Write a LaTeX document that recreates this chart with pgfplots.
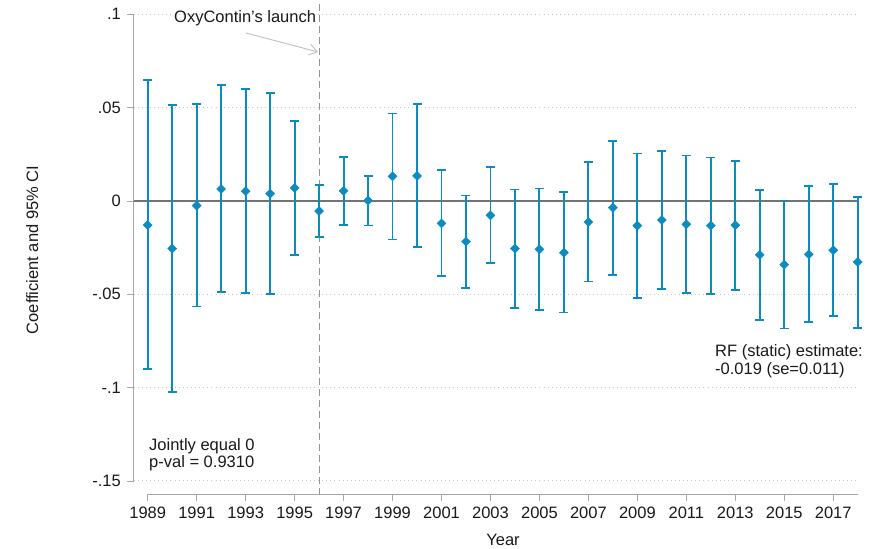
\documentclass[border=0pt]{standalone}
\usepackage{fontspec}
\setmainfont{Liberation Sans}
\usepackage{pgfplots}
\pgfplotsset{compat=1.18}
\usepackage{pgfplotstable}
\usetikzlibrary{arrows.meta}
\definecolor{ptblue}{RGB}{10,140,192}
\pgfplotstableread{
year coef lo hi
1989 -0.0129 -0.0902 0.0647
1990 -0.0255 -0.1024 0.0514
1991 -0.0025 -0.0565 0.0520
1992 0.0064 -0.0488 0.0620
1993 0.0052 -0.0493 0.0600
1994 0.0039 -0.0500 0.0580
1995 0.0070 -0.0289 0.0427
1996 -0.0054 -0.0195 0.0086
1997 0.0054 -0.0130 0.0234
1998 0.0002 -0.0132 0.0134
1999 0.0132 -0.0207 0.0468
2000 0.0134 -0.0248 0.0518
2001 -0.0120 -0.0402 0.0164
2002 -0.0218 -0.0468 0.0030
2003 -0.0077 -0.0334 0.0182
2004 -0.0255 -0.0572 0.0061
2005 -0.0259 -0.0584 0.0066
2006 -0.0277 -0.0598 0.0048
2007 -0.0113 -0.0432 0.0207
2008 -0.0036 -0.0397 0.0323
2009 -0.0132 -0.0520 0.0254
2010 -0.0102 -0.0473 0.0268
2011 -0.0125 -0.0495 0.0243
2012 -0.0132 -0.0497 0.0232
2013 -0.0130 -0.0477 0.0214
2014 -0.0289 -0.0636 0.0059
2015 -0.0341 -0.0684 0.0002
2016 -0.0286 -0.0650 0.0080
2017 -0.0264 -0.0618 0.0091
2018 -0.0327 -0.0679 0.0021
}\datatable

\begin{document}
\begin{tikzpicture}[x=1pt,y=1pt]
\fontsize{16.5}{19}\selectfont
\begin{axis}[
  at={(133.5pt,55pt)}, anchor=south west,
  scale only axis, width=724.2pt, height=479.7pt,
  xmin=1988.42, xmax=2018, ymin=-0.157, ymax=0.1,
  axis line style={draw=none},
  xtick={1989,1991,...,2017},
  ytick={-0.15,-0.1,-0.05,0,0.05,0.1},
  yticklabels={-.15,-.1,-.05,0,.05,.1},
  xtick pos=left, ytick pos=left,
  tick align=outside, major tick length=7pt,
  tick style={color=black!35, line width=0.8pt},
  ymajorgrids, grid style={dash pattern=on 0.9pt off 3.2pt, color=black!22, line width=0.9pt},
  clip=false,
  /pgf/number format/1000 sep={},
  /pgf/number format/assume math mode=true,
  tick label style={font=\fontsize{16.5}{19}\selectfont, color=black!90},
]
\draw[black!35, line width=0.8pt] (axis cs:1988.42,-0.15) -- (axis cs:1988.42,0.1);
\draw[black!35, line width=0.8pt] (axis cs:1989,-0.157) -- (axis cs:2018,-0.157);
\draw[black!55, line width=1.1pt] (axis cs:1988.42,0) -- (axis cs:2018,0);
\draw[black!42, line width=1.15pt, dash pattern=on 7pt off 4pt] (axis cs:1996,0.1055) -- (axis cs:1996,-0.157);
\addplot[ptblue, only marks, mark=square*, mark size=3.2pt,
  mark options={rotate=45, fill=ptblue, draw=ptblue},
  error bars/.cd, y dir=both, y explicit,
  error bar style={line width=1.9pt, ptblue},
  error mark options={ptblue, line width=1.7pt, mark size=4.5pt, rotate=90}]
  table[x=year, y=coef,
    y error plus expr=\thisrow{hi}-\thisrow{coef},
    y error minus expr=\thisrow{coef}-\thisrow{lo}] {\datatable};
\end{axis}
\node[anchor=west, inner sep=0pt, text=black!90] at (174,531) {OxyContin's launch};
\draw[black!25, line width=0.9pt, -{Straight Barb[length=8pt,width=11pt]}] (246,516) -- (318,497);
\node[anchor=base west, inner sep=0pt, text=black!90] at (149,98) {Jointly equal 0};
\node[anchor=base west, inner sep=0pt, text=black!90] at (149,81) {p-val = 0.9310};
\node[anchor=base west, inner sep=0pt, text=black!90] at (715,192.3) {RF (static) estimate:};
\node[anchor=base west, inner sep=0pt, text=black!90] at (715,174.7) {-0.019 (se=0.011)};
\node[anchor=base, inner sep=0pt, text=black!90] at (503,3.5) {Year};
\node[anchor=base, rotate=90, inner sep=0pt, text=black!90] at (38,299) {Coefficient and 95\% CI};
\path[use as bounding box] (0,0) rectangle (876,549);
\end{tikzpicture}
\end{document}
